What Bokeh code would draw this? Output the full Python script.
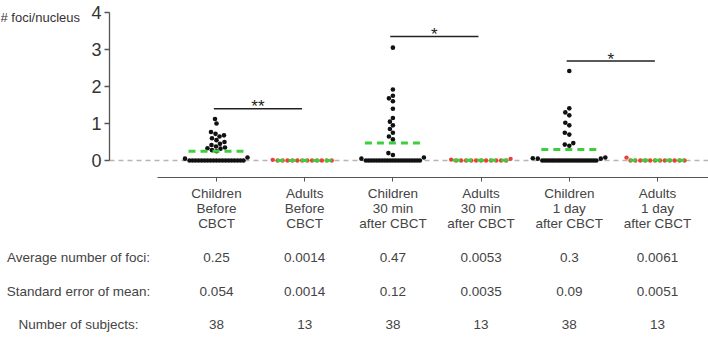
from bokeh.core.properties import value
from bokeh.embed import file_html
from bokeh.models import ColumnDataSource, FixedTicker, Range1d
from bokeh.plotting import figure
from bokeh.resources import INLINE

# ---------------------------------------------------------------- data
group_labels = [
    "Children\nBefore\nCBCT",
    "Adults\nBefore\nCBCT",
    "Children\n30 min\nafter CBCT",
    "Adults\n30 min\nafter CBCT",
    "Children\n1 day\nafter CBCT",
    "Adults\n1 day\nafter CBCT",
]
is_adult = [False, True, False, True, False, True]

children_before = [1.12, 1.0, 0.77, 0.72, 0.68, 0.65, 0.6, 0.55, 0.5, 0.45,
                   0.42, 0.38, 0.35, 0.33, 0.32, 0.28, 0.25, 0.08, 0.05,
                   0, 0, 0, 0, 0, 0, 0, 0, 0, 0,
                   0, 0, 0, 0, 0, 0, 0, 0, 0]
adults_before = [0.018, 0, 0, 0, 0, 0, 0, 0, 0, 0, 0, 0, 0]
children_30min = [3.05, 1.92, 1.75, 1.68, 1.6, 1.4, 1.15, 1.05, 0.95, 0.85,
                  0.75, 0.65, 0.57, 0.2, 0.15, 0.08, 0.05,
                  0, 0, 0, 0, 0, 0, 0, 0, 0, 0,
                  0, 0, 0, 0, 0, 0, 0, 0, 0, 0, 0]
adults_30min = [0.045, 0.024, 0, 0, 0, 0, 0, 0, 0, 0, 0, 0, 0]
children_1day = [2.42, 1.41, 1.3, 1.22, 1.02, 0.95, 0.75, 0.7, 0.47, 0.43,
                 0.4, 0.08, 0.06, 0.05, 0.05,
                 0, 0, 0, 0, 0, 0, 0, 0, 0, 0,
                 0, 0, 0, 0, 0, 0, 0, 0, 0, 0, 0, 0, 0]
adults_1day = [0.079, 0, 0, 0, 0, 0, 0, 0, 0, 0, 0, 0, 0]

group_values = [children_before, adults_before, children_30min,
                adults_30min, children_1day, adults_1day]

avg_foci = [0.25, 0.0014, 0.47, 0.0053, 0.3, 0.0061]
sem_foci = [0.054, 0.0014, 0.12, 0.0035, 0.09, 0.0051]
n_subjects = [38, 13, 38, 13, 38, 13]
row_titles = ["Average number of foci:", "Standard error of mean:",
              "Number of subjects:"]

sig_pairs = [(0, 1), (2, 3), (4, 5)]
sig_heights = [1.40, 3.35, 2.69]
sig_marks = ["**", "*", "*"]

y_ticks = [0, 1, 2, 3, 4]

# ---------------------------------------------------------------- geometry
FONT = "Liberation Sans"
W, H = 708, 337
CAT0_PX = 216.0      # page x of the first group
CAT_STEP = 88.2      # px between groups
Y_PX = 37.0          # px per foci unit
ZERO_PX = 160.0      # page y of the zero line
YAXIS_PX = 109       # page x of the y axis
XAXIS_PX = 177       # page y of the x axis
XAXIS_START_PX = 157
ROW0_PX, ROW_STEP = 257.0, 33.5
ROW_TITLE_PX = 78


def px_to_x(px):
    return 1 + (px - CAT0_PX) / CAT_STEP


def py_to_y(py):
    return (ZERO_PX - py) / Y_PX


def swarm(vals, spacing=5.0, max_half=27.0, dot=4.6):
    """Horizontal px offsets for a Prism-like scatter of one group."""
    offs = [0.0] * len(vals)
    zeros = [i for i, v in enumerate(vals) if v == 0]
    rest = sorted((i for i, v in enumerate(vals) if v != 0), key=lambda i: vals[i])
    placed = []
    if zeros:
        half = min(max_half, (len(zeros) - 1) * spacing / 2)
        for k, i in enumerate(zeros):
            o = -half + 2 * half * k / (len(zeros) - 1) if len(zeros) > 1 else 0.0
            offs[i] = o
            placed.append((o, 0.0))
    cands = [0.0]
    for s in range(1, 120):
        cands += [-s * 0.5, s * 0.5]
    for i in rest:
        y = vals[i] * Y_PX
        for c in cands:
            if all((c - ox) ** 2 + (y - oy) ** 2 >= dot ** 2 for ox, oy in placed):
                offs[i] = c
                placed.append((c, y))
                break
    return offs


x_start, x_end = px_to_x(0), px_to_x(W)

p = figure(width=W, height=H, x_range=Range1d(x_start, x_end),
           y_range=Range1d(py_to_y(H), py_to_y(0)), output_backend="svg",
           toolbar_location=None, min_border_left=0, min_border_right=0,
           min_border_top=0, min_border_bottom=0)
p.outline_line_color = None
p.grid.visible = False
p.background_fill_color = "white"
p.border_fill_color = "white"

# y axis: 0..4 only, Prism style
ya = p.yaxis[0]
ya.fixed_location = px_to_x(YAXIS_PX)
ya.bounds = (0, 4)
ya.ticker = FixedTicker(ticks=y_ticks)
ya.minor_tick_line_color = None
ya.major_tick_in = 0
ya.major_tick_out = 5
ya.axis_line_color = "#555555"
ya.major_tick_line_color = "#555555"
ya.axis_line_width = 1.3
ya.major_tick_line_width = 1.3
ya.major_label_text_font = FONT
ya.major_label_text_font_size = "18px"
ya.major_label_text_color = "#333333"
ya.major_label_standoff = 3

# x axis: offset below the zero line, starting right of the y axis
xa = p.xaxis[0]
xa.fixed_location = py_to_y(XAXIS_PX)
xa.bounds = (px_to_x(XAXIS_START_PX), x_end)
xa.ticker = FixedTicker(ticks=[1, 2, 3, 4, 5, 6])
xa.major_label_overrides = {i + 1: lab for i, lab in enumerate(group_labels)}
xa.minor_tick_line_color = None
xa.major_tick_in = 0
xa.major_tick_out = 4
xa.axis_line_color = "#555555"
xa.major_tick_line_color = "#555555"
xa.major_label_text_font = FONT
xa.major_label_text_font_size = "13.5px"
xa.major_label_text_color = "#444444"
xa.major_label_text_line_height = 1.0
xa.major_label_standoff = 4

# dashed zero reference line, from the y axis to the right edge
p.segment(x0=[px_to_x(YAXIS_PX)], y0=[0], x1=[x_end], y1=[0],
          line_color="#b5b5b5", line_dash="5 4", line_width=1.6)

# individual subjects
for g, vals in enumerate(group_values):
    offs = swarm(vals)
    src = ColumnDataSource(dict(x=[g + 1 + o / CAT_STEP for o in offs], y=vals))
    if is_adult[g]:
        p.scatter("x", "y", source=src, size=4.4, fill_color="#e8413a",
                  line_color=None)
    else:
        p.scatter("x", "y", source=src, size=4.6, fill_color="#111111",
                  line_color=None)

# group means
half_w = 28 / CAT_STEP
p.segment(x0=[i + 1 - half_w for i in range(6)], y0=avg_foci,
          x1=[i + 1 + half_w for i in range(6)], y1=avg_foci,
          line_color="#3ccf3c", line_width=3, line_dash="7 5")

# significance brackets
shift = -0.03
p.segment(x0=[a + 1 + shift for a, b in sig_pairs], y0=sig_heights,
          x1=[b + 1 + shift for a, b in sig_pairs], y1=sig_heights,
          line_color="#222222", line_width=1.5)
p.text(x=[(a + b) / 2 + 1 + shift for a, b in sig_pairs],
       y=[h + 0.05 for h in sig_heights], text=sig_marks,
       text_font=value(FONT), text_font_size="17px", text_color="#222222",
       text_align="center", text_baseline="alphabetic")

# axis title, horizontal at the top left
p.text(x=[px_to_x(0)], y=[py_to_y(17)], text=["# foci/nucleus"],
       text_font=value(FONT), text_font_size="13px", text_color="#333333",
       text_align="left", text_baseline="middle")

# ---------------------------------------------------------------- summary table
rows = [avg_foci, sem_foci, n_subjects]
tx, ty, tt = [], [], []
for r, (title, vals) in enumerate(zip(row_titles, rows)):
    row_y = py_to_y(ROW0_PX + r * ROW_STEP)
    tx.append(px_to_x(ROW_TITLE_PX))
    ty.append(row_y)
    tt.append(title)
    for g, v in enumerate(vals):
        tx.append(g + 1)
        ty.append(row_y)
        tt.append(str(v))
p.text(x=tx, y=ty, text=tt, text_font=value(FONT), text_font_size="13.5px",
       text_color="#444444", text_align="center", text_baseline="middle")

open("out.html", "w").write(file_html(p, INLINE))
